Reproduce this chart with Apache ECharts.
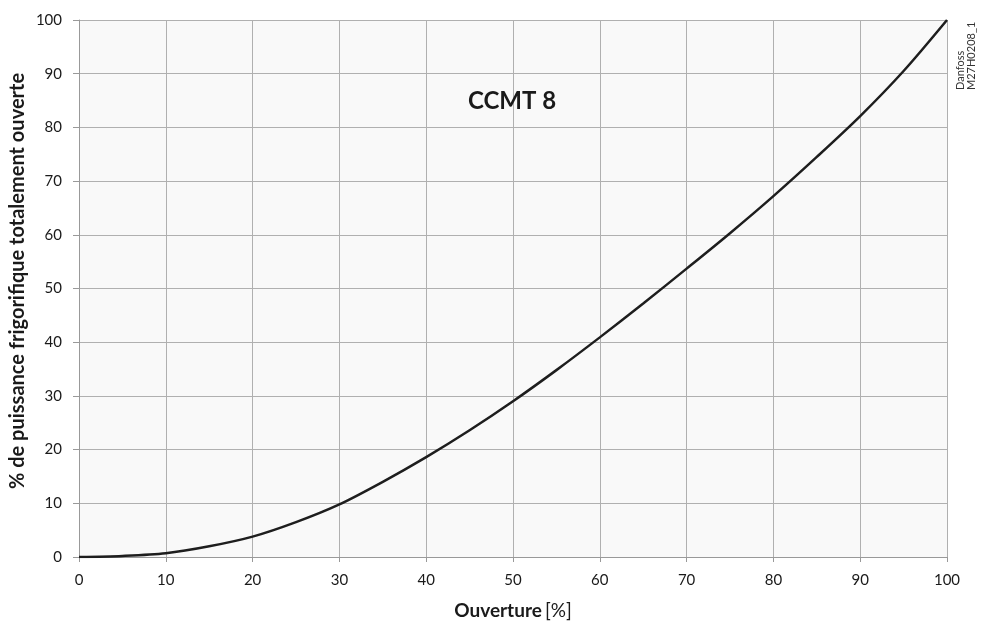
<!DOCTYPE html>
<html><head><meta charset="utf-8">
<script src="https://cdn.jsdelivr.net/npm/echarts@6/dist/echarts.min.js"></script>
<style>html,body{margin:0;padding:0;background:#fff}#c{width:984px;height:621px}</style>
</head><body><div id="c"></div>
<script>
const opening = [0,5,10,15,20,25,30,35,40,45,50,55,60,65,70,75,80,85,90,95,100];
const capacity = [0,0.2,0.7,2.0,3.8,6.5,9.8,14.0,18.6,23.6,29.0,34.8,40.9,47.2,53.7,60.3,67.2,74.5,82.1,90.5,100];
const xTicks = [0,10,20,30,40,50,60,70,80,90,100];
const yTicks = [0,10,20,30,40,50,60,70,80,90,100];

const chart = echarts.init(document.getElementById('c'));
const font = 'Lato, "Open Sans", sans-serif';
chart.setOption({
  animation:false,
  textStyle:{fontFamily:font},
  grid:{left:79,right:37,top:20,bottom:64,show:true,backgroundColor:'#f9f9f9',borderWidth:0,containLabel:false,outerBoundsMode:'none'},
  title:{text:'CCMT 8',left:512,top:89,textAlign:'center',padding:0,textStyle:{fontFamily:font,fontWeight:'bold',fontSize:24,color:'#1a1a1a'}},
  graphic:[
    {type:'text',x:955,y:90,rotation:Math.PI/2,style:{text:'Danfoss\nM27H0208_1',font:'11px '+font,fill:'#333',lineHeight:11}},
    {type:'text',x:18,y:281,rotation:Math.PI/2,style:{text:'% de puissance frigorifique totalement ouverte',font:'bold 20px '+font,fill:'#1a1a1a',textAlign:'center',textVerticalAlign:'middle'}}
  ],
  xAxis:{type:'value',min:0,max:100,interval:10,
    name:'{b|Ouverture} {r|[%]}',nameLocation:'middle',nameGap:44,
    nameTextStyle:{rich:{b:{fontWeight:'bold',fontSize:19,color:'#1a1a1a',fontFamily:font},r:{fontSize:19,color:'#1a1a1a',fontFamily:font}}},
    axisLine:{show:true,lineStyle:{color:'#999',width:1}},
    axisTick:{show:true,length:5,lineStyle:{color:'#999'}},
    axisLabel:{fontSize:15,color:'#1a1a1a',margin:16,fontFamily:font},
    splitLine:{show:true,lineStyle:{color:'#b0b0b0',width:1}}},
  yAxis:{type:'value',min:0,max:100,interval:10,
    axisLine:{show:true,lineStyle:{color:'#999',width:1}},
    axisTick:{show:true,length:6,lineStyle:{color:'#999'}},
    axisLabel:{fontSize:15,color:'#1a1a1a',margin:17,fontFamily:font},
    splitLine:{show:true,lineStyle:{color:'#b0b0b0',width:1}}},
  series:[{type:'line',data:opening.map((x,i)=>[x,capacity[i]]),smooth:0.3,showSymbol:false,
    lineStyle:{color:'#1e1e1e',width:2.5}}]
});
</script></body></html>
